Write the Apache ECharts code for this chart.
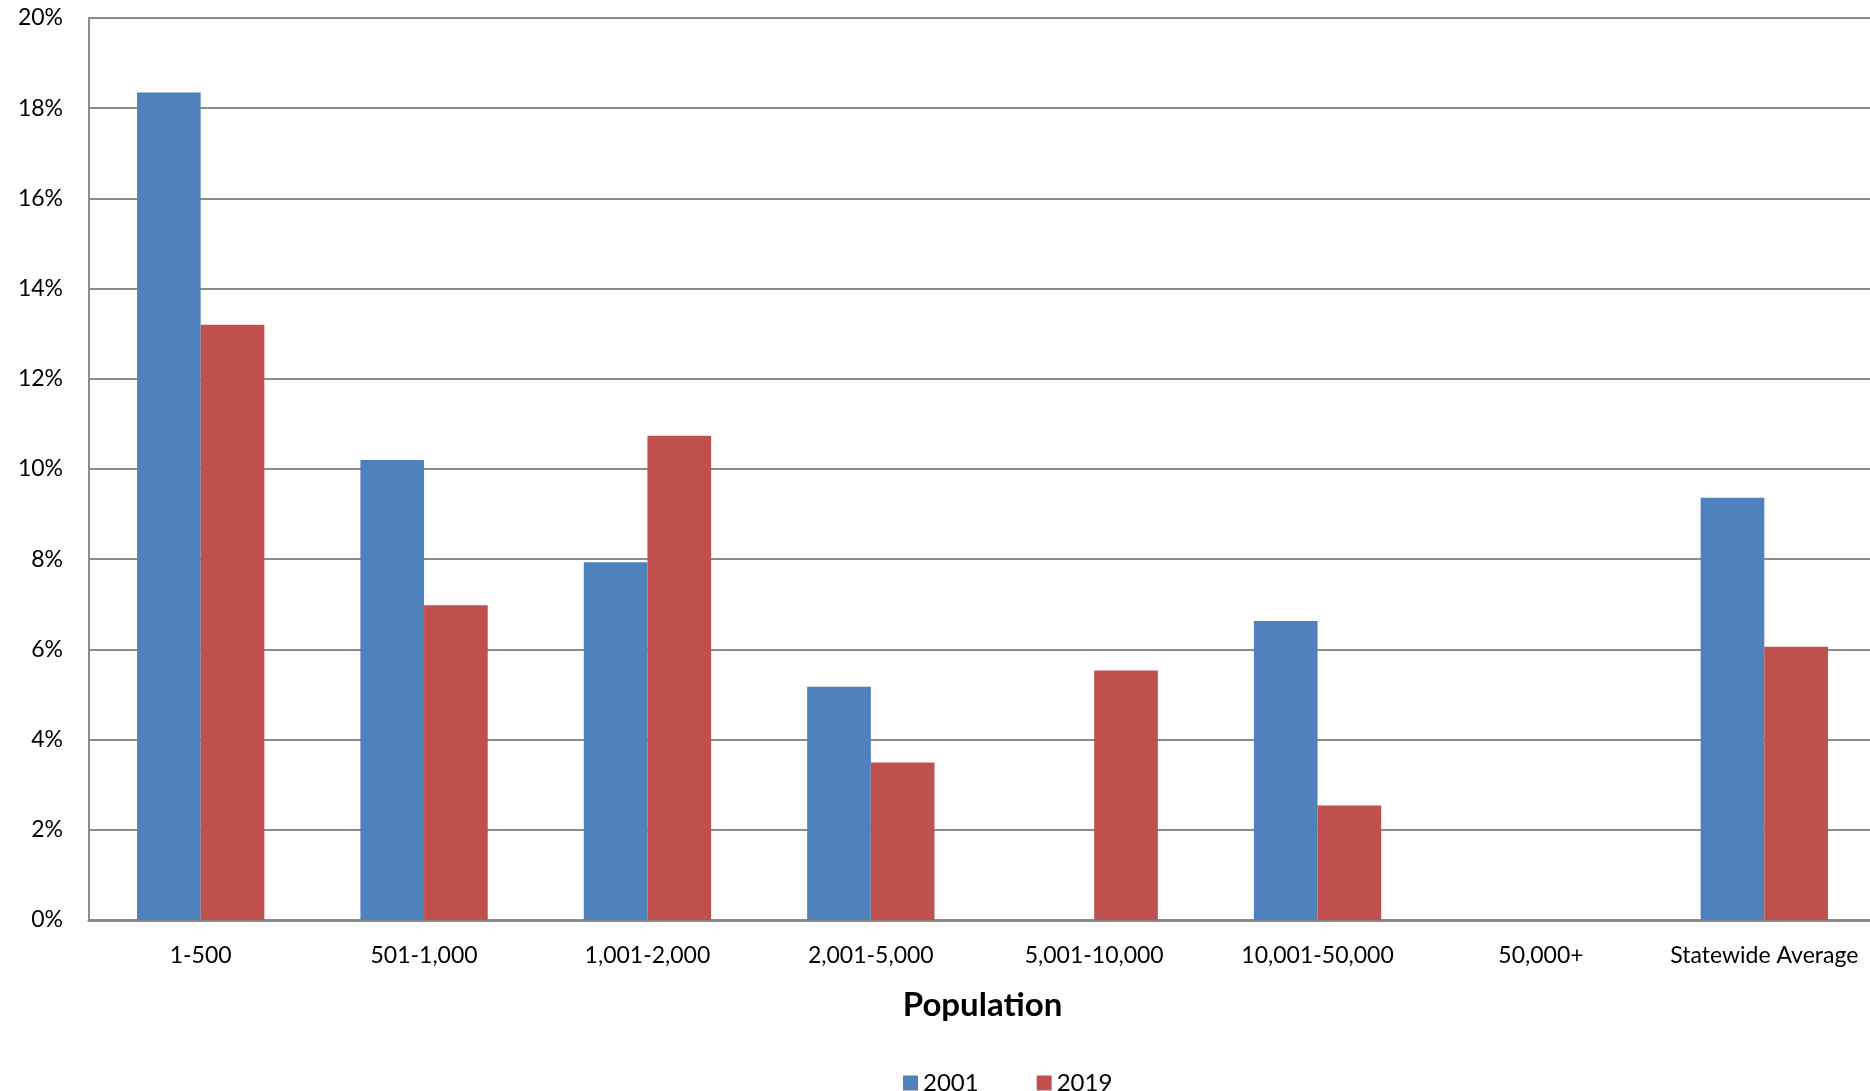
<!DOCTYPE html>
<html>
<head>
<meta charset="utf-8">
<script src="https://cdn.jsdelivr.net/npm/echarts@6/dist/echarts.min.js"></script>
<style>
  html, body { margin: 0; padding: 0; background: #fff; }
  #chart { width: 1870px; height: 1091px; }
</style>
</head>
<body>
<div id="chart"></div>
<script>
// data
var categories = ['1-500', '501-1,000', '1,001-2,000', '2,001-5,000', '5,001-10,000', '10,001-50,000', '50,000+', 'Statewide Average'];
var values2001 = [18.35, 10.2, 7.93, 5.17, null, 6.63, null, 9.36];
var values2019 = [13.2, 6.98, 10.74, 3.49, 5.53, 2.54, null, 6.06];
var seriesNames = ['2001', '2019'];

var font = 'Lato, "Open Sans", sans-serif';

var chart = echarts.init(document.getElementById('chart'));
var option = {
    animation: false,
    textStyle: { fontFamily: font },
    grid: {
        left: 89,
        top: 18,
        width: 1787,
        bottom: 171,
        outerBoundsMode: 'none'
    },
    legend: {
        top: 1066,
        left: 898,
        itemWidth: 15,
        itemHeight: 15,
        itemGap: 58,
        icon: 'rect',
        textStyle: { fontFamily: font, fontSize: 24, color: '#000' },
        data: seriesNames
    },
    xAxis: {
        type: 'category',
        data: categories,
        name: 'Population',
        nameLocation: 'middle',
        nameGap: 69,
        nameTextStyle: { fontFamily: font, fontSize: 33, fontWeight: 'bold', color: '#000' },
        axisLine: { lineStyle: { color: '#8c8c8c', width: 3 } },
        axisTick: { show: false },
        axisLabel: { fontFamily: font, fontSize: 23, color: '#000', margin: 24, interval: 0 }
    },
    yAxis: {
        type: 'value',
        min: 0,
        max: 20,
        interval: 2,
        axisLine: { show: true, lineStyle: { color: '#8c8c8c', width: 2 } },
        axisTick: { show: false },
        axisLabel: {
            fontFamily: font,
            fontSize: 23,
            color: '#000',
            margin: 26,
            formatter: '{value}%'
        },
        splitLine: { lineStyle: { color: '#8c8c8c', width: 2 } }
    },
    series: [{
        name: seriesNames[0],
        type: 'bar',
        data: values2001,
        barGap: 0,
        barCategoryGap: '43%',
        itemStyle: { color: '#4F81BD' }
    }, {
        name: seriesNames[1],
        type: 'bar',
        data: values2019,
        itemStyle: { color: '#C0504D' }
    }]
};
chart.setOption(option);
</script>
</body>
</html>
